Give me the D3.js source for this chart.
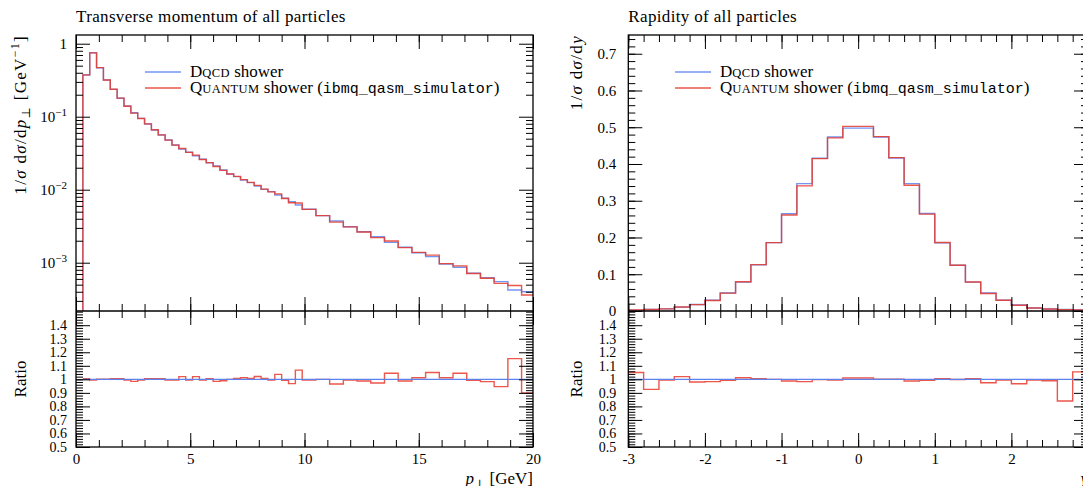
<!DOCTYPE html>
<html>
<head>
<meta charset="utf-8">
<script src="https://cdn.jsdelivr.net/npm/d3@7"></script>
<style>
body { margin: 0; background: #fff; }
svg { display: block; }
</style>
</head>
<body>
<div id="container"></div>
<script>
const ptEdges = [0.3, 0.6, 0.9, 1.2, 1.5, 1.8, 2.1, 2.4, 2.7, 3.0, 3.3, 3.6, 3.9, 4.2, 4.5, 4.8, 5.1,
    5.4, 5.7, 6.0, 6.3, 6.6, 6.9, 7.2, 7.5, 7.8, 8.1, 8.4, 8.7, 9.0, 9.3, 9.6, 9.9,
    10.5, 11.1, 11.7, 12.3, 12.9, 13.5, 14.1, 14.7, 15.3, 15.9, 16.5, 17.1, 17.7, 18.3, 18.9, 19.5, 20.1]
const ptDqcd = [0.372, 0.753, 0.469, 0.318, 0.237, 0.179, 0.140, 0.1135, 0.095, 0.0794, 0.0658, 0.0561,
    0.0480, 0.0410, 0.0360, 0.0326, 0.0292, 0.0261, 0.0234, 0.0211, 0.0186, 0.0164, 0.0151, 0.0136,
    0.0125, 0.01125, 0.0101, 0.0094, 0.00846, 0.00762, 0.00685, 0.00617,
    0.0054, 0.00441, 0.00373, 0.00311, 0.00266, 0.00227, 0.0019, 0.00163, 0.00137, 0.00121,
    0.00096, 0.000865, 0.000716, 0.000623, 0.00055, 0.000423, 0.000401]
const ptQuantum = [0.3739, 0.7492, 0.4699, 0.3186, 0.2382, 0.1799, 0.1393, 0.1118, 0.09453, 0.0798, 0.06613, 0.05638,
    0.04776, 0.0408, 0.03672, 0.03244, 0.02978, 0.02597, 0.02352, 0.02078, 0.01841, 0.0164, 0.01521, 0.01376,
    0.01259, 0.01148, 0.01017, 0.009353, 0.008773, 0.007567, 0.006631, 0.00659,
    0.005373, 0.00441, 0.0036, 0.003094, 0.002628, 0.002209, 0.001986, 0.00161, 0.001386, 0.001271,
    0.0009715, 0.000904, 0.000711, 0.0006124, 0.0005203, 0.0004877, 0.0003609]

const rapEdges = [-3.0, -2.8, -2.6, -2.4, -2.2, -2.0, -1.8, -1.6, -1.4, -1.2, -1.0, -0.8, -0.6, -0.4, -0.2,
    0.0, 0.2, 0.4, 0.6, 0.8, 1.0, 1.2, 1.4, 1.6, 1.8, 2.0, 2.2, 2.4, 2.6, 2.8, 3.0]
const rapDqcd = [0.0025, 0.0042, 0.0058, 0.0105, 0.0176, 0.0292, 0.049, 0.0785, 0.1255, 0.186, 0.2645,
    0.3465, 0.4155, 0.4735, 0.4975, 0.4975, 0.4735, 0.4165, 0.3465, 0.2655, 0.1855, 0.1245, 0.0785,
    0.049, 0.0292, 0.0162, 0.0082, 0.0056, 0.0043, 0.0028]
const rapQuantum = [0.002625, 0.003889, 0.005771, 0.01071, 0.01725, 0.0287, 0.04866, 0.07944, 0.1261, 0.186,
    0.2613, 0.3406, 0.4147, 0.4711, 0.5025, 0.5025, 0.4744, 0.4173, 0.3423, 0.2636, 0.1864, 0.1243,
    0.07889, 0.04778, 0.02905, 0.01568, 0.00816, 0.005544, 0.003612, 0.002954]

const ptXTicks = [0, 5, 10, 15, 20]
const ptYTicks = [1, 0.1, 0.01, 0.001]
const ptYLabels = [["1", ""], ["10", "−1"], ["10", "−2"], ["10", "−3"]]
const rapXTicks = [-3, -2, -1, 0, 1, 2, 3]
const rapYTicks = [0, 0.1, 0.2, 0.3, 0.4, 0.5, 0.6, 0.7]
const ratioTicks = [0.5, 0.6, 0.7, 0.8, 0.9, 1, 1.1, 1.2, 1.3, 1.4]

const width = 1083, height = 486
const plotTop = 35, plotMid = 311, plotBottom = 447
const blue = "#5b83ef", red = "#e8392a"
const serif = "'Liberation Serif', 'DejaVu Serif', serif"
const mono = "'Liberation Mono', 'DejaVu Sans Mono', monospace"

const svg = d3.select('#container').append('svg')
    .attr('width', width).attr('height', height)
    .style('font-family', serif)

const rich = (text, parts) => {
    parts.forEach(p => {
        const t = text.append('tspan').text(p.sc ? p.t.toUpperCase() : p.t)
        if (p.i) t.style('font-style', 'italic')
        if (p.sc) t.style('font-size', '12.5px').style('letter-spacing', '0.4px')
        if (p.mono) t.style('font-family', mono).style('font-size', '15px').style('letter-spacing', '0')
        if (p.sub) t.attr('dy', 4).style('font-size', '12px')
        if (p.sup) t.attr('dy', -7).style('font-size', '12px')
        if (p.dy) t.attr('dy', p.dy)
    })
    return text
}

const stepPoints = (edges, vals, floor) => {
    const pts = []
    if (floor !== undefined) pts.push([edges[0], floor])
    vals.forEach((v, i) => pts.push([edges[i], v]))
    pts.push([edges[edges.length - 1], vals[vals.length - 1]])
    return pts
}

const drawAxis = (g, axisFn, scale, values, size, pos, fmt, pad, fontSize) => {
    const ax = g.append('g').attr('transform', pos)
        .call(axisFn(scale).tickValues(values).tickSize(size).tickPadding(pad || 0)
            .tickFormat(fmt || (() => '')))
    ax.select('.domain').remove()
    ax.selectAll('line').attr('stroke', '#000').attr('stroke-width', 1)
    ax.selectAll('text').style('font-family', serif).style('font-size', fontSize || '15px').attr('fill', '#000')
    return ax
}

const drawPanel = (cfg) => {
    const g = svg.append('g')
    const x = d3.scaleLinear().domain(cfg.xDomain).range([cfg.x0, cfg.x1])
    const y = cfg.log
        ? d3.scaleLog().domain(cfg.yDomain).range([plotMid, plotTop])
        : d3.scaleLinear().domain(cfg.yDomain).range([plotMid, plotTop])
    const yr = d3.scaleLinear().domain([0.5, 1.505]).range([plotBottom, plotMid])

    const clipMain = 'clip-main-' + cfg.id
    const clipRatio = 'clip-ratio-' + cfg.id
    g.append('clipPath').attr('id', clipMain).append('rect')
        .attr('x', cfg.x0).attr('y', plotTop).attr('width', cfg.x1 - cfg.x0).attr('height', plotMid - plotTop)
    g.append('clipPath').attr('id', clipRatio).append('rect')
        .attr('x', cfg.x0).attr('y', plotMid).attr('width', cfg.x1 - cfg.x0).attr('height', plotBottom - plotMid)

    const line = d3.line().x(d => x(d[0])).y(d => y(d[1])).curve(d3.curveStepAfter)
    const rline = d3.line().x(d => x(d[0])).y(d => yr(d[1])).curve(d3.curveStepAfter)
    const floor = cfg.yDomain[0]

    const main = g.append('g').attr('clip-path', 'url(#' + clipMain + ')')
    main.append('path').attr('d', line(stepPoints(cfg.edges, cfg.dqcd, floor)))
        .attr('fill', 'none').attr('stroke', blue).attr('stroke-width', 1.4).attr('stroke-opacity', 0.85)
    main.append('path').attr('d', line(stepPoints(cfg.edges, cfg.quantum, floor)))
        .attr('fill', 'none').attr('stroke', red).attr('stroke-width', 1.4).attr('stroke-opacity', 0.85)

    const ratio = g.append('g').attr('clip-path', 'url(#' + clipRatio + ')')
    const ratioVals = cfg.quantum.map((q, i) => q / cfg.dqcd[i])
    const ones = cfg.dqcd.map((d, i) => d / cfg.dqcd[i])
    ratio.append('path').attr('d', rline(stepPoints(cfg.edges, ratioVals)))
        .attr('fill', 'none').attr('stroke', red).attr('stroke-width', 1.4).attr('stroke-opacity', 0.85)
    ratio.append('path').attr('d', rline(stepPoints(cfg.edges, ones)))
        .attr('fill', 'none').attr('stroke', blue).attr('stroke-width', 1.2)

    // x ticks on every horizontal frame line
    const [xa, xb] = cfg.xDomain
    const xMinor = d3.range(Math.ceil(xa / cfg.xMinorStep), Math.floor(xb / cfg.xMinorStep) + 1)
        .map(k => +(k * cfg.xMinorStep).toFixed(3))
    const majX = cfg.xTicks
    drawAxis(g, d3.axisTop, x, xMinor, -7, `translate(0,${plotTop})`)
    drawAxis(g, d3.axisTop, x, majX, -14, `translate(0,${plotTop})`)
    drawAxis(g, d3.axisBottom, x, xMinor, -7, `translate(0,${plotMid})`)
    drawAxis(g, d3.axisBottom, x, majX, -14, `translate(0,${plotMid})`)
    drawAxis(g, d3.axisTop, x, xMinor, -7, `translate(0,${plotMid})`)
    drawAxis(g, d3.axisTop, x, majX, -14, `translate(0,${plotMid})`)
    drawAxis(g, d3.axisBottom, x, xMinor, -7, `translate(0,${plotBottom})`)
    drawAxis(g, d3.axisBottom, x, majX, -14, `translate(0,${plotBottom})`, d => d, 6)

    // main y ticks
    let yMinor
    if (cfg.log) {
        yMinor = []
        d3.range(-4, 1).forEach(e => d3.range(2, 10).forEach(k => {
            const v = k * Math.pow(10, e)
            if (v > cfg.yDomain[0] && v < cfg.yDomain[1]) yMinor.push(v)
        }))
    } else {
        yMinor = d3.range(0, 38).map(k => +(k * 0.02).toFixed(2))
    }
    drawAxis(g, d3.axisLeft, y, yMinor, -7, `translate(${cfg.x0},0)`)
    drawAxis(g, d3.axisRight, y, yMinor, -7, `translate(${cfg.x1},0)`)
    drawAxis(g, d3.axisRight, y, cfg.yTicks, -14, `translate(${cfg.x1},0)`)
    const yAx = drawAxis(g, d3.axisLeft, y, cfg.yTicks, -14, `translate(${cfg.x0},0)`,
        cfg.log ? (() => '') : (d => d), cfg.pad)
    if (cfg.log) {
        yAx.selectAll('text').each(function (d, i) {
            const lab = cfg.yLabels[i]
            const t = d3.select(this)
            t.append('tspan').text(lab[0])
            if (lab[1]) t.append('tspan').attr('dy', -6).style('font-size', '11px').text(lab[1])
        })
    }

    // ratio y ticks
    const rMinor = d3.range(25, 76).map(k => +(k * 0.02).toFixed(2))
    drawAxis(g, d3.axisLeft, yr, rMinor, -7, `translate(${cfg.x0},0)`)
    drawAxis(g, d3.axisRight, yr, rMinor, -7, `translate(${cfg.x1},0)`)
    drawAxis(g, d3.axisRight, yr, ratioTicks, -14, `translate(${cfg.x1},0)`)
    drawAxis(g, d3.axisLeft, yr, ratioTicks, -14, `translate(${cfg.x0},0)`, d => d, cfg.pad, '14px')

    // frames
    g.append('rect').attr('x', cfg.x0).attr('y', plotTop).attr('width', cfg.x1 - cfg.x0).attr('height', plotBottom - plotTop)
        .attr('fill', 'none').attr('stroke', '#000').attr('stroke-width', 1.3)
    g.append('line').attr('x1', cfg.x0).attr('x2', cfg.x1).attr('y1', plotMid).attr('y2', plotMid)
        .attr('stroke', '#000').attr('stroke-width', 1.3)

    // title
    g.append('text').attr('x', cfg.x0).attr('y', 22).style('font-size', '17px')
        .style('letter-spacing', '0.35px').text(cfg.title)

    // axis titles
    rich(g.append('text').attr('transform', `translate(${cfg.yLabelX},${plotTop}) rotate(-90)`)
        .attr('text-anchor', 'end').style('font-size', '17px').style('letter-spacing', '1.3px'), cfg.yLabel)
    g.append('text').attr('transform', `translate(${cfg.yLabelX},${(plotMid + plotBottom) / 2}) rotate(-90)`)
        .attr('text-anchor', 'middle').style('font-size', '17px').text('Ratio')
    rich(g.append('text').attr('x', cfg.x1).attr('y', 484).attr('text-anchor', 'end')
        .style('font-size', '17px'), cfg.xLabel)

    // legend
    const lx = cfg.legendX
    ;[blue, red].forEach((c, i) => {
        const ly = 72 + i * 16
        g.append('line').attr('x1', lx).attr('x2', lx + 36).attr('y1', ly).attr('y2', ly)
            .attr('stroke', c).attr('stroke-width', 1.4).attr('stroke-opacity', 0.85)
    })
    rich(g.append('text').attr('x', lx + 45).attr('y', 77).style('font-size', '17px'),
        [{ t: 'D' }, { t: 'qcd', sc: true }, { t: ' shower' }])
    rich(g.append('text').attr('x', lx + 45).attr('y', 93).style('font-size', '17px'),
        [{ t: 'Q' }, { t: 'uantum', sc: true }, { t: ' shower (' }, { t: 'ibmq_qasm_simulator', mono: true }, { t: ')' }])
}

drawPanel({
    id: 'pt', x0: 76, x1: 533, xDomain: [0, 20], xTicks: ptXTicks, xMinorStep: 1,
    log: true, yDomain: [2.18e-4, 1.316], yTicks: ptYTicks, yLabels: ptYLabels, pad: 9,
    edges: ptEdges, dqcd: ptDqcd, quantum: ptQuantum,
    title: 'Transverse momentum of all particles', legendX: 145, yLabelX: 26,
    yLabel: [{ t: '1/' }, { t: 'σ', i: true }, { t: ' d' }, { t: 'σ', i: true }, { t: '/d' }, { t: 'p', i: true },
        { t: '⊥', sub: true }, { t: ' [GeV', dy: -4 }, { t: '−1', sup: true }, { t: ']', dy: 7 }],
    xLabel: [{ t: 'p', i: true }, { t: '⊥', sub: true }, { t: ' [GeV]', dy: -4 }]
})

drawPanel({
    id: 'rap', x0: 628.3, x1: 1088, xDomain: [-3, 3], xTicks: rapXTicks, xMinorStep: 0.2,
    log: false, yDomain: [0, 0.751], yTicks: rapYTicks, pad: 12,
    edges: rapEdges, dqcd: rapDqcd, quantum: rapQuantum,
    title: 'Rapidity of all particles', legendX: 675, yLabelX: 582,
    yLabel: [{ t: '1/' }, { t: 'σ', i: true }, { t: ' d' }, { t: 'σ', i: true }, { t: '/d' }, { t: 'y', i: true }],
    xLabel: [{ t: 'y', i: true }]
})
</script>
</body>
</html>
